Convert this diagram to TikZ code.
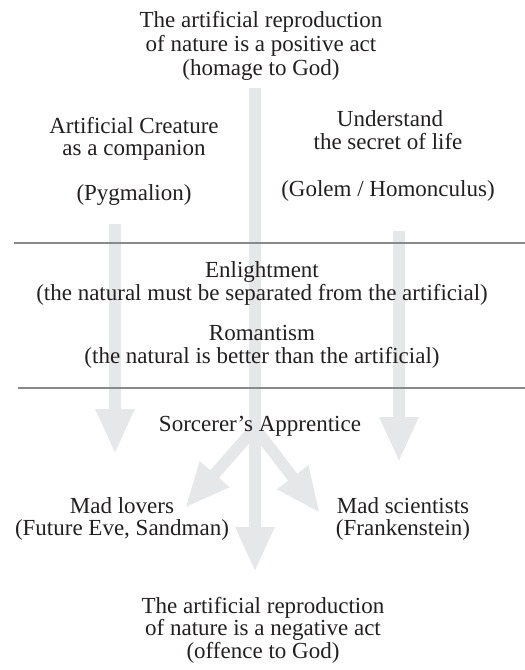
\documentclass[tikz,border=0pt]{standalone}
\usepackage{fontspec}
\setmainfont{Liberation Serif}
\usetikzlibrary{arrows.meta}
\definecolor{arrowgray}{HTML}{E6E7E8}
\definecolor{rulegray}{HTML}{8A8A8A}
\definecolor{ink}{HTML}{231F20}
\begin{document}
\begin{tikzpicture}[x=1pt,y=-1pt,
  txt/.style={font=\fontsize{23}{24}\selectfont, text=ink, inner sep=0pt, anchor=base},
  bigarrow/.style={draw=arrowgray, line width=11.5pt, -{Triangle[width=36pt,length=45pt]}},
  rulestyle/.style={draw=rulegray, line width=1.2pt}]
\useasboundingbox (0,0) rectangle (525,670);
% arrow end points
\coordinate (cS) at (255,88);  \coordinate (cE) at (255,572);
\coordinate (lS) at (115,224); \coordinate (lE) at (115,454);
\coordinate (rS) at (399,231); \coordinate (rE) at (399,462);
\coordinate (fork) at (255,428);
\coordinate (dlE) at (185,508); \coordinate (drE) at (320,513);
% arrows
\draw[bigarrow] (cS) -- (cE);
\draw[bigarrow] (lS) -- (lE);
\draw[bigarrow] (rS) -- (rE);
\draw[bigarrow] (fork) -- (dlE);
\draw[bigarrow] (fork) -- (drE);
% rules
\coordinate (r1a) at (14,243); \coordinate (r1b) at (525,243);
\coordinate (r2a) at (18,388); \coordinate (r2b) at (525,388);
\draw[rulestyle] (r1a) -- (r1b);
\draw[rulestyle] (r2a) -- (r2b);
% texts
\node[txt] (top1) at (261,27) {The artificial reproduction};
\node[txt] (top2) at (261,51) {of nature is a positive act};
\node[txt] (top3) at (261,75) {(homage to God)};
\node[txt] (pyg1) at (134,133) {Artificial Creature};
\node[txt] (pyg2) at (134,155) {as a companion};
\node[txt] (pyg3) at (134,200) {(Pygmalion)};
\node[txt] (gol1) at (390,126) {Understand};
\node[txt] (gol2) at (388,149) {the secret of life};
\node[txt] (gol3) at (388,196) {(Golem / Homonculus)};
\node[txt] (enl1) at (262,277) {Enlightment};
\node[txt] (enl2) at (262,300) {(the natural must be separated from the artificial)};
\node[txt] (rom1) at (262,340) {Romantism};
\node[txt] (rom2) at (262,363) {(the natural is better than the artificial)};
\node[txt] (sorc) at (260,431) {Sorcerer's Apprentice};
\node[txt] (lov1) at (122,513) {Mad lovers};
\node[txt] (lov2) at (122,535) {(Future Eve, Sandman)};
\node[txt] (sci1) at (403,513) {Mad scientists};
\node[txt] (sci2) at (403,535) {(Frankenstein)};
\node[txt] (bot1) at (263,613) {The artificial reproduction};
\node[txt] (bot2) at (263,635) {of nature is a negative act};
\node[txt] (bot3) at (263,658) {(offence to God)};
\end{tikzpicture}
\end{document}
